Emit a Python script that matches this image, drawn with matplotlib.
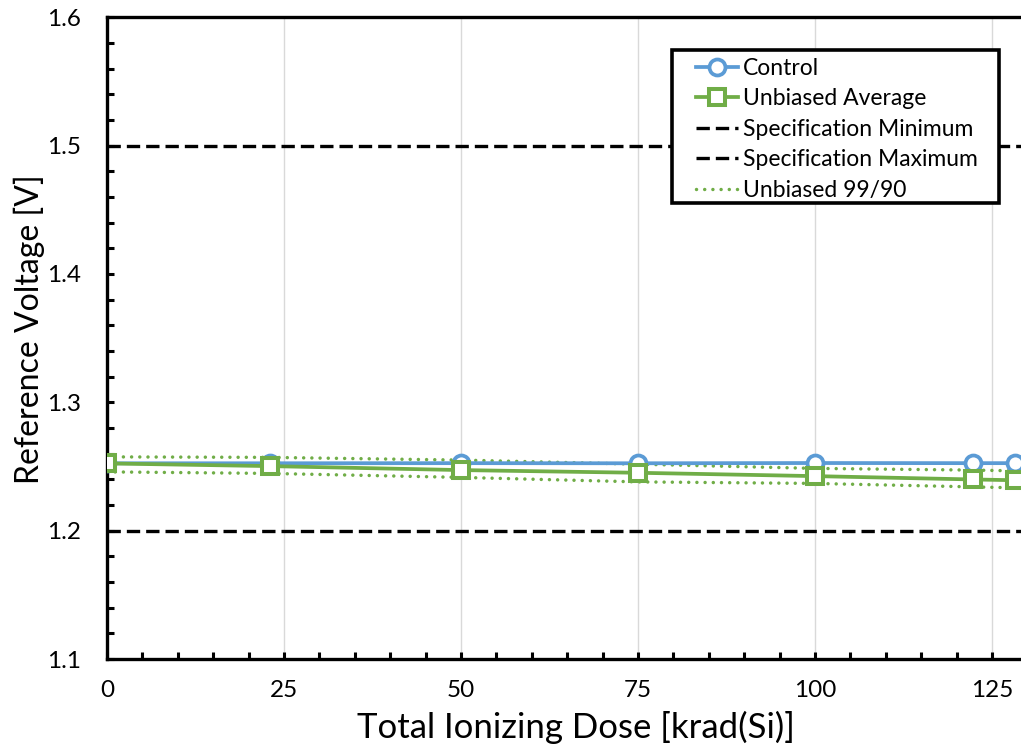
import matplotlib
matplotlib.use("Agg")
import matplotlib.pyplot as plt
from matplotlib.ticker import MultipleLocator
from matplotlib.patches import Rectangle

plt.rcParams['font.family'] = ['Lato', 'DejaVu Sans']

dose = [0, 23, 50, 75, 100, 122.3, 128.2]
control = [1.2525, 1.2525, 1.2526, 1.2525, 1.2527, 1.2526, 1.2526]
unbiased_avg = [1.2524, 1.2503, 1.2472, 1.2451, 1.2425, 1.2399, 1.2393]
unbiased_upper = [1.2575, 1.2571, 1.2550, 1.2518, 1.2485, 1.2472, 1.2466]
unbiased_lower = [1.2458, 1.2446, 1.2415, 1.2380, 1.2368, 1.2341, 1.2334]
spec_min = 1.2
spec_max = 1.5
x_ticks = [0, 25, 50, 75, 100, 125]
y_ticks = [1.1, 1.2, 1.3, 1.4, 1.5, 1.6]

blue = '#5B9BD5'
green = '#70AD47'

W, H = 1021, 752
fig = plt.figure(figsize=(W/100, H/100), dpi=100)
ax_w_px = 130 * 7.08
ax_h_px = 659 - 17.3
ax = fig.add_axes([107/W, 1 - 659/H, ax_w_px/W, ax_h_px/H])

ax.set_xlim(0, 130)
ax.set_ylim(1.1, 1.6)

for xv in x_ticks[1:]:
    ax.axvline(xv, color='#D9D9D9', lw=1.0, zorder=0)

ax.plot(dose, control, color=blue, lw=2.7, marker='o', ms=11.5, mfc='white',
        mec=blue, mew=2.7, label='Control', zorder=3)
ax.plot(dose, unbiased_avg, color=green, lw=2.7, marker='s', ms=12, mfc='white',
        mec=green, mew=2.9, label='Unbiased Average', zorder=4)
ax.axhline(spec_min, color='black', lw=2.4, dashes=(4.0, 1.8), label='Specification Minimum', zorder=2)
ax.axhline(spec_max, color='black', lw=2.4, dashes=(4.0, 1.8), label='Specification Maximum', zorder=2)
dot_kw = dict(color=green, lw=2.5, linestyle=(0, (0.01, 2.35)), dash_capstyle='round', zorder=2)
ax.plot(dose, unbiased_upper, label='Unbiased 99/90', **dot_kw)
ax.plot(dose, unbiased_lower, **dot_kw)

ax.set_xticks(x_ticks)
ax.set_yticks(y_ticks)
ax.set_yticklabels([f'{v:.1f}' for v in y_ticks])
ax.xaxis.set_minor_locator(MultipleLocator(5))
ax.yaxis.set_minor_locator(MultipleLocator(0.02))
ax.tick_params(which='both', direction='in', width=2.2, length=5, labelsize=17.5,
               top=False, right=False, colors='black')
ax.tick_params(axis='x', which='major', pad=15)
ax.tick_params(axis='y', which='major', pad=19)
for s in ax.spines.values():
    s.set_linewidth(2.4)
ax.spines['right'].set_visible(False)

ax.set_xlabel('Total Ionizing Dose [krad(Si)]', fontsize=25)
ax.xaxis.set_label_coords((576 - 107) / ax_w_px, -(711 - 659) / ax_h_px)
ax.set_ylabel('Reference Voltage [V]', fontsize=23)
ax.yaxis.set_label_coords(-(107 - 45) / ax_w_px, 1 - (329 - 17.3) / ax_h_px)

# legend frame drawn as a patch in figure pixels
frame = Rectangle((672/W, 1 - 203/H), (999-672)/W, (203-50)/H, transform=fig.transFigure,
                  facecolor='white', edgecolor='black', lw=2.6, zorder=5)
ax.add_patch(frame)
frame.set_clip_on(False)

leg = ax.legend(loc='upper left', fontsize=16.5, frameon=False,
                handlelength=1.83, handletextpad=0.22, borderpad=0.0, labelspacing=0.41,
                borderaxespad=0)
leg.set_bbox_to_anchor((696/W, 1 - 58/H), transform=fig.transFigure)
leg.set_zorder(6)

fig.savefig('out.png', dpi=100)
